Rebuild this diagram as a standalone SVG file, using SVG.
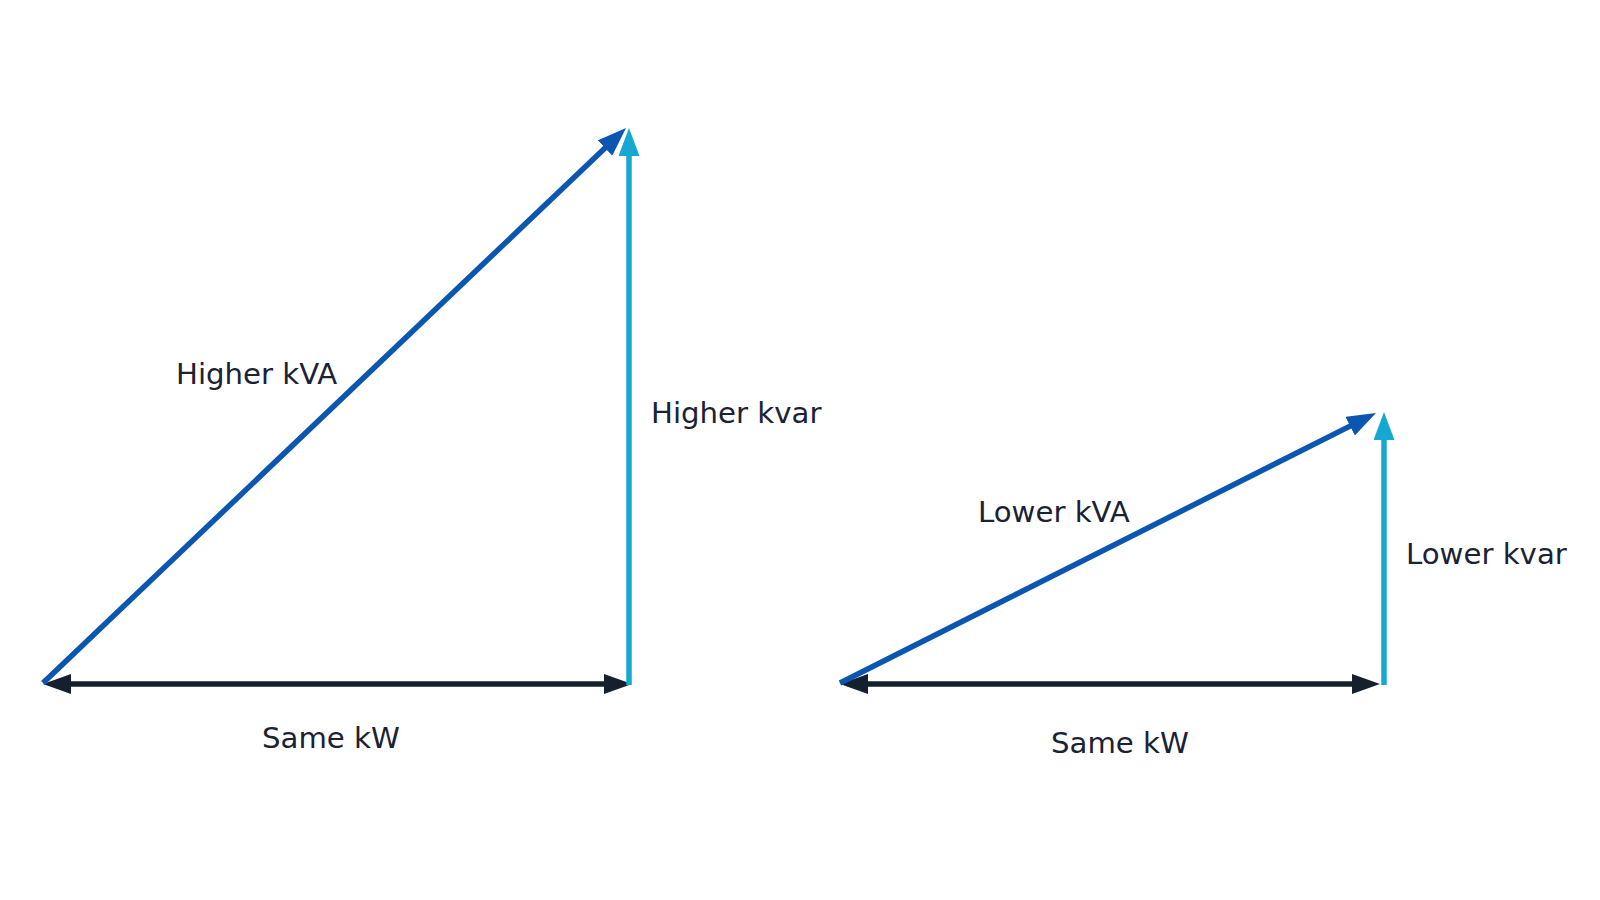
<svg xmlns="http://www.w3.org/2000/svg" width="1600" height="900" viewBox="0 0 1600 900">
<style>
.lbl{font-family:"DejaVu Sans","Verdana",sans-serif;font-size:29.2px;fill:#1a2233}
.kva{stroke:#0a56b0;stroke-width:5.5;fill:none}
.kvar{stroke:#17a8d2;stroke-width:5.5;fill:none}
.kw{stroke:#15202e;stroke-width:5.5;fill:none}
</style>
<defs>
<marker id="hBlue" markerUnits="userSpaceOnUse" markerWidth="29" markerHeight="21" refX="16" refY="10.5" orient="auto"><path d="M0,0 L29,10.5 L0,21 z" fill="#0a56b0"/></marker>
<marker id="hCyan" markerUnits="userSpaceOnUse" markerWidth="28" markerHeight="21" refX="15" refY="10.5" orient="auto"><path d="M0,0 L28,10.5 L0,21 z" fill="#17a8d2"/></marker>
<marker id="hDark" markerUnits="userSpaceOnUse" markerWidth="28" markerHeight="20" refX="15" refY="10" orient="auto-start-reverse"><path d="M0,0 L28,10 L0,20 z" fill="#15202e"/></marker>
</defs>
<rect width="1600" height="900" fill="#ffffff"/>
<g id="connectors">
<line class="kw" x1="56" y1="684" x2="619" y2="684" marker-start="url(#hDark)" marker-end="url(#hDark)"/>
<line class="kvar" x1="629" y1="685" x2="629" y2="141" marker-end="url(#hCyan)"/>
<line class="kva" x1="43" y1="683" x2="616.6" y2="137" marker-end="url(#hBlue)"/>
<line class="kw" x1="853" y1="684" x2="1367" y2="684" marker-start="url(#hDark)" marker-end="url(#hDark)"/>
<line class="kvar" x1="1384" y1="685" x2="1384" y2="425" marker-end="url(#hCyan)"/>
<line class="kva" x1="840" y1="683" x2="1364.4" y2="418.9" marker-end="url(#hBlue)"/>
</g>
<g id="left-triangle">
<text class="lbl" x="176" y="384">Higher kVA</text>
<text class="lbl" x="651" y="423">Higher kvar</text>
<text class="lbl" x="262" y="748">Same kW</text>
</g>
<g id="right-triangle">
<text class="lbl" x="978" y="522">Lower kVA</text>
<text class="lbl" x="1406" y="564">Lower kvar</text>
<text class="lbl" x="1051" y="753">Same kW</text>
</g>
</svg>
